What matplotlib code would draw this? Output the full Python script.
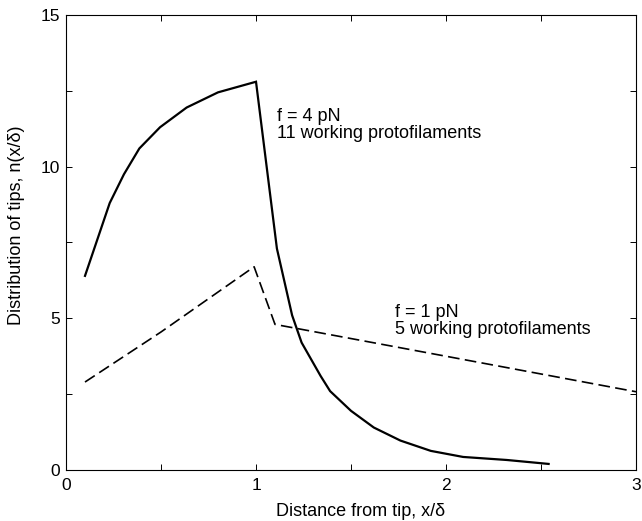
import matplotlib
matplotlib.use('Agg')
import matplotlib.pyplot as plt

plt.rcParams['font.family'] = ['Liberation Sans', 'DejaVu Sans']

# f = 4 pN, 11 working protofilaments (solid)
x_4pn = [0.1, 0.23, 0.305, 0.386, 0.495, 0.635, 0.8, 1.0, 1.11, 1.19, 1.24, 1.34,
         1.39, 1.5, 1.62, 1.76, 1.92, 2.09, 2.32, 2.54]
n_4pn = [6.4, 8.8, 9.75, 10.6, 11.3, 11.95, 12.45, 12.8, 7.3, 5.1, 4.2, 3.1,
         2.6, 1.95, 1.4, 0.97, 0.63, 0.43, 0.33, 0.2]

# f = 1 pN, 5 working protofilaments (dashed)
x_1pn = [0.1, 0.5, 0.99, 1.1, 2.0, 3.0]
n_1pn = [2.9, 4.55, 6.7, 4.8, 3.75, 2.58]

xticks = [0, 1, 2, 3]
yticks = [0, 5, 10, 15]

fig = plt.figure(figsize=(6.42, 5.21), dpi=100)
ax = fig.add_axes([0.1028, 0.0979, 0.8879, 0.8733])

ax.plot(x_4pn, n_4pn, color='black', lw=1.6, solid_joinstyle='miter')
ax.plot(x_1pn, n_1pn, color='black', lw=1.2, dashes=(7, 3.2))

fs = 13
ax.text(1.11, 11.52, 'f = 4 pN', fontsize=fs, va='baseline')
ax.text(1.11, 10.95, '11 working protofilaments', fontsize=fs, va='baseline')
ax.text(1.73, 5.05, 'f = 1 pN', fontsize=fs, va='baseline')
ax.text(1.73, 4.48, '5 working protofilaments', fontsize=fs, va='baseline')

ax.set_xlim(0, 3)
ax.set_ylim(0, 15)
ax.set_xticks(xticks)
ax.set_yticks(yticks)
ax.set_xticks([0.5, 1.5, 2.5], minor=True)
ax.set_yticks([2.5, 7.5, 12.5], minor=True)
ax.tick_params(which='both', direction='in', top=True, right=True, labelsize=12.5,
               width=0.7, length=4)
ax.tick_params(axis='x', pad=6)
ax.tick_params(axis='y', pad=4)
for s in ax.spines.values():
    s.set_linewidth(0.8)

ax.set_xlabel('Distance from tip, x/\u03b4', fontsize=fs)
ax.set_ylabel('Distribution of tips, n(x/\u03b4)', fontsize=fs)
ax.xaxis.set_label_coords(0.5175, -0.072)
ax.yaxis.set_label_coords(-0.072, 0.538)

fig.savefig('out.png', dpi=100)
